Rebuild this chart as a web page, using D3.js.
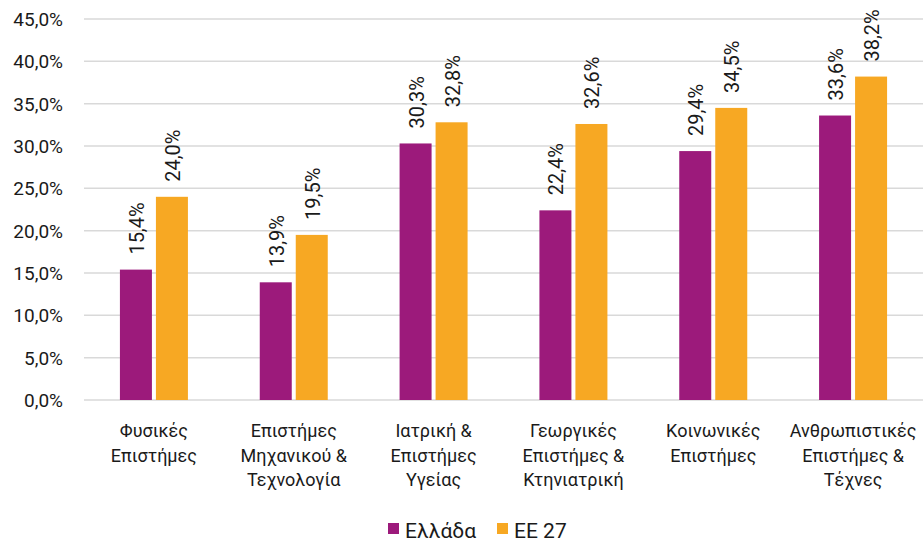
<!DOCTYPE html>
<html>
<head>
<meta charset="utf-8">
<script src="https://cdn.jsdelivr.net/npm/d3@7"></script>
<style>
  body { margin: 0; background: #fff; }
  text { font-family: Roboto, "DejaVu Sans", sans-serif; fill: #1a1a1a; }
</style>
</head>
<body>
<svg class="chart" width="923" height="543"></svg>
<script>
const categories = [
    ['Φυσικές', 'Επιστήμες'],
    ['Επιστήμες', 'Μηχανικού &', 'Τεχνολογία'],
    ['Ιατρική &', 'Επιστήμες', 'Υγείας'],
    ['Γεωργικές', 'Επιστήμες &', 'Κτηνιατρική'],
    ['Κοινωνικές', 'Επιστήμες'],
    ['Ανθρωπιστικές', 'Επιστήμες &', 'Τέχνες'],
]
const greece = [15.4, 13.9, 30.3, 22.4, 29.4, 33.6]
const eu27 = [24.0, 19.5, 32.8, 32.6, 34.5, 38.2]
const seriesNames = ['Ελλάδα', 'ΕΕ 27']
const colors = ['#9c1a7b', '#f7a823']
const yTicks = [0, 5, 10, 15, 20, 25, 30, 35, 40, 45]

let svg = d3.select("svg.chart")
let margin = {left: 84, right: 0, top: 19, bottom: 143}
let width = +svg.attr("width")
let height = +svg.attr("height")

let fmt = v => v.toFixed(1).replace('.', ',') + '%'

let x = d3.scaleBand()
    .domain(d3.range(categories.length))
    .range([margin.left, width - margin.right])

let y = d3.scaleLinear()
    .domain([0, 45])
    .range([height - margin.bottom, margin.top])

// grid
svg.append("g")
  .selectAll("line")
  .data(yTicks)
  .enter().append("line")
    .attr("x1", margin.left)
    .attr("x2", width - margin.right)
    .attr("y1", d => y(d))
    .attr("y2", d => y(d))
    .attr("stroke", "#d9d9d9")
    .attr("stroke-width", 1.5)

svg.append("g")
  .selectAll("text")
  .data(yTicks)
  .enter().append("text")
    .attr("x", 63)
    .attr("y", d => y(d))
    .attr("dy", "0.36em")
    .attr("text-anchor", "end")
    .style("font-size", "19px")
    .text(d => fmt(d))

let barW = 32, gap = 4
let series = [greece, eu27]

series.forEach((vals, s) => {
  let bx = i => x(i) + x.bandwidth() / 2 + (s === 0 ? -gap / 2 - barW : gap / 2)
  let g = svg.append("g")
  g.selectAll("rect")
    .data(vals)
    .enter().append("rect")
      .attr("x", (d, i) => bx(i))
      .attr("y", d => y(d))
      .attr("width", barW)
      .attr("height", d => y(0) - y(d))
      .attr("fill", colors[s])
  g.selectAll("text")
    .data(vals)
    .enter().append("text")
      .attr("transform", (d, i) => `translate(${bx(i) + barW / 2 + 8}, ${y(d) - 15}) rotate(-90)`)
      .style("font-size", "20px")
      .text(d => fmt(d))
})

// category labels
let cat = svg.append("g")
  .selectAll("text")
  .data(categories)
  .enter().append("text")
    .attr("x", (d, i) => x(i) + x.bandwidth() / 2)
    .attr("y", 437)
    .attr("text-anchor", "middle")
    .style("font-size", "18px")

cat.selectAll("tspan")
  .data(d => d)
  .enter().append("tspan")
    .attr("x", function() { return this.parentNode.getAttribute("x") })
    .attr("dy", (d, i) => i === 0 ? 0 : 24.5)
    .text(d => d)

// legend
let legendX = [388, 497]
let legend = svg.append("g")
  .selectAll("g")
  .data(seriesNames)
  .enter().append("g")
    .attr("transform", (d, i) => `translate(${legendX[i]}, 523)`)
legend.append("rect")
    .attr("width", 11)
    .attr("height", 11)
    .attr("fill", (d, i) => colors[i])
legend.append("text")
    .attr("x", 17)
    .attr("y", 14.5)
    .style("font-size", "21px")
    .text(d => d)
</script>
</body>
</html>
